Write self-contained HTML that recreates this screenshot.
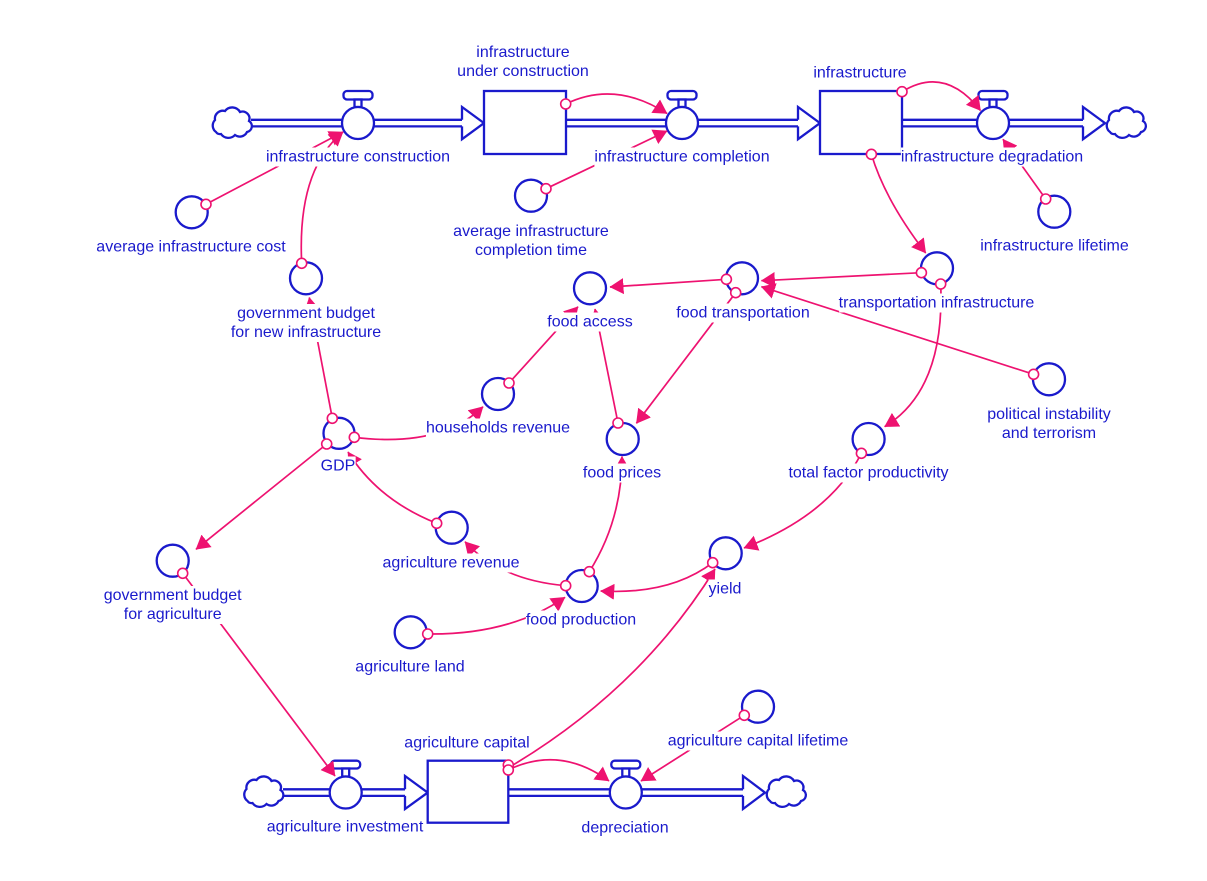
<!DOCTYPE html>
<html>
<head>
<meta charset="utf-8">
<style>
body{margin:0;background:#fff;}
#c{position:relative;width:1207px;height:881px;overflow:hidden;background:#fff;}
svg{position:absolute;left:0;top:0;}
.l{position:absolute;transform:translate(-50%,-50%);font:16px/19px "Liberation Sans",Arial,sans-serif;color:#1a1acc;background:#fff;white-space:nowrap;text-align:center;}
</style>
</head>
<body>
<div id="c">
<svg width="1207" height="881" viewBox="0 0 1207 881">
<defs>
<marker id="a" markerUnits="userSpaceOnUse" viewBox="0 0 14 16" markerWidth="14" markerHeight="16" refX="13.5" refY="8" orient="auto">
<path d="M0,0L14,8L0,16z" fill="#ee1270"/>
</marker>
</defs>

<g fill="none" stroke="#1a1acc" stroke-width="2.3">
<!-- pipes -->
<path d="M251,119.8H462M251,126.4H462"/>
<path d="M566,119.8H798M566,126.4H798"/>
<path d="M902,119.8H1083M902,126.4H1083"/>
<path d="M283,789.3H405M283,795.9H405"/>
<path d="M508,789.3H743M508,795.9H743"/>
<!-- flow arrowheads -->
<path fill="#fff" d="M462,119.8V107L484,123.1L462,139.2V126.4"/>
<path fill="#fff" d="M798,119.8V107L820,123.1L798,139.2V126.4"/>
<path fill="#fff" d="M1083,119.8V107L1105,123.1L1083,139.2V126.4"/>
<path fill="#fff" d="M405,789.3V776L427.7,792.6L405,809V795.9"/>
<path fill="#fff" d="M743,789.3V776L765,792.6L743,809V795.9"/>
<!-- stocks -->
<rect x="484" y="91" width="82" height="63" fill="#fff"/>
<rect x="820" y="91" width="82" height="63" fill="#fff"/>
<rect x="427.7" y="760.7" width="80.6" height="62" fill="#fff"/>
<!-- valves -->
<rect x="343.5" y="91" width="29" height="8.5" rx="3.5" fill="#fff"/>
<rect x="354.5" y="99.5" width="7" height="7.5" fill="#fff"/>
<circle cx="358" cy="123" r="16" fill="#fff"/>
<rect x="667.5" y="91" width="29" height="8.5" rx="3.5" fill="#fff"/>
<rect x="678.5" y="99.5" width="7" height="7.5" fill="#fff"/>
<circle cx="682" cy="123" r="16" fill="#fff"/>
<rect x="978.5" y="91" width="29" height="8.5" rx="3.5" fill="#fff"/>
<rect x="989.5" y="99.5" width="7" height="7.5" fill="#fff"/>
<circle cx="993" cy="123" r="16" fill="#fff"/>
<rect x="331.2" y="760.7" width="29" height="7.8" rx="3.5" fill="#fff"/>
<rect x="342.2" y="768.5" width="7" height="8" fill="#fff"/>
<circle cx="345.7" cy="792.5" r="16" fill="#fff"/>
<rect x="611.3" y="760.7" width="29" height="7.8" rx="3.5" fill="#fff"/>
<rect x="622.3" y="768.5" width="7" height="8" fill="#fff"/>
<circle cx="625.8" cy="792.5" r="16" fill="#fff"/>
<!-- clouds -->
<g fill="#fff">
<path transform="translate(232,122)" d="M-16,10a8,8 0 0 1 -1,-12a8,8 0 0 1 10,-9a9,9 0 0 1 15,1a7,7 0 0 1 9,9a6,6 0 0 1 -2,11a8,8 0 0 1 -12,3a9,9 0 0 1 -14,-1a5,5 0 0 1 -5,-2z"/>
<path transform="translate(1126,122)" d="M-16,10a8,8 0 0 1 -1,-12a8,8 0 0 1 10,-9a9,9 0 0 1 15,1a7,7 0 0 1 9,9a6,6 0 0 1 -2,11a8,8 0 0 1 -12,3a9,9 0 0 1 -14,-1a5,5 0 0 1 -5,-2z"/>
<path transform="translate(263.5,791)" d="M-16,10a8,8 0 0 1 -1,-12a8,8 0 0 1 10,-9a9,9 0 0 1 15,1a7,7 0 0 1 9,9a6,6 0 0 1 -2,11a8,8 0 0 1 -12,3a9,9 0 0 1 -14,-1a5,5 0 0 1 -5,-2z"/>
<path transform="translate(786,791)" d="M-16,10a8,8 0 0 1 -1,-12a8,8 0 0 1 10,-9a9,9 0 0 1 15,1a7,7 0 0 1 9,9a6,6 0 0 1 -2,11a8,8 0 0 1 -12,3a9,9 0 0 1 -14,-1a5,5 0 0 1 -5,-2z"/>
</g>
<!-- auxiliaries -->
<circle cx="191.7" cy="212.3" r="16"/>
<circle cx="306" cy="278.3" r="16"/>
<circle cx="531" cy="195.7" r="16"/>
<circle cx="1054.3" cy="211.7" r="16"/>
<circle cx="937" cy="268.3" r="16"/>
<circle cx="742" cy="278.3" r="16"/>
<circle cx="590" cy="288.3" r="16"/>
<circle cx="1049" cy="379.3" r="16"/>
<circle cx="498" cy="394" r="16"/>
<circle cx="339" cy="433.3" r="15.5"/>
<circle cx="622.7" cy="439" r="16"/>
<circle cx="868.6" cy="439" r="16"/>
<circle cx="451.7" cy="527.7" r="16"/>
<circle cx="172.7" cy="560.7" r="16"/>
<circle cx="725.7" cy="553.3" r="16"/>
<circle cx="581.7" cy="586" r="16"/>
<circle cx="410.7" cy="632.3" r="16"/>
<circle cx="758" cy="706.7" r="16"/>
</g>

<!-- links -->
<g fill="none" stroke="#ee1270" stroke-width="1.7" marker-end="url(#a)">
<path d="M206,204.3L343,132"/>
<path d="M301.7,263.3Q297,170 343,132"/>
<path d="M565.7,104Q615,80 667,113.5"/>
<path d="M546,188.7L667,131"/>
<path d="M902,91.7Q945,65 980.5,110.5"/>
<path d="M1045.7,199L1003,139.3"/>
<path d="M871.4,154.3Q885,200 925.7,253"/>
<path d="M921.4,272.7L761.4,280.7"/>
<path d="M1033.6,374.3L761.4,286.7"/>
<path d="M940.7,284Q945,390 884.6,426.7"/>
<path d="M726.4,279.3L610,287"/>
<path d="M735.7,292.7L636.4,423.3"/>
<path d="M618,423L595,309"/>
<path d="M509,383L578,306.7"/>
<path d="M332.3,418.3L309.3,297.5"/>
<path d="M354.3,437.3Q440,448 483,406.7"/>
<path d="M326.7,444L196,549.3"/>
<path d="M436.7,523.3Q378,500 348,452"/>
<path d="M565.7,585.7Q500,580 465,541.7"/>
<path d="M589.3,571.7Q622,520 622,456.5"/>
<path d="M427.7,634Q510,635 565,597.3"/>
<path d="M712.7,562.7Q670,595 600.7,591"/>
<path d="M861.4,453.3Q830,515 744,548"/>
<path d="M508,768Q640,690 715,569"/>
<path d="M182.7,573.3L335,776"/>
<path d="M508,770Q560,745 609,781"/>
<path d="M744.3,715.3L641,781"/>
</g>

<!-- link tails -->
<g fill="#fff" stroke="#ee1270" stroke-width="1.6">
<circle cx="206" cy="204.3" r="5"/>
<circle cx="301.7" cy="263.3" r="5"/>
<circle cx="565.7" cy="104" r="5"/>
<circle cx="546" cy="188.7" r="5"/>
<circle cx="902" cy="91.7" r="5"/>
<circle cx="871.4" cy="154.3" r="5"/>
<circle cx="1045.7" cy="199" r="5"/>
<circle cx="921.4" cy="272.7" r="5"/>
<circle cx="940.7" cy="284" r="5"/>
<circle cx="1033.6" cy="374.3" r="5"/>
<circle cx="726.4" cy="279.3" r="5"/>
<circle cx="735.7" cy="292.7" r="5"/>
<circle cx="618" cy="423" r="5"/>
<circle cx="509" cy="383" r="5"/>
<circle cx="332.3" cy="418.3" r="5"/>
<circle cx="354.3" cy="437.3" r="5"/>
<circle cx="326.7" cy="444" r="5"/>
<circle cx="436.7" cy="523.3" r="5"/>
<circle cx="589.3" cy="571.7" r="5"/>
<circle cx="565.7" cy="585.7" r="5"/>
<circle cx="427.7" cy="634" r="5"/>
<circle cx="712.7" cy="562.7" r="5"/>
<circle cx="861.4" cy="453.3" r="5"/>
<circle cx="182.7" cy="573.3" r="5"/>
<circle cx="508.3" cy="765" r="5"/>
<circle cx="508.3" cy="770" r="5"/>
<circle cx="744.3" cy="715.3" r="5"/>
</g>
</svg>

<div class="l" style="left:523px;top:62.2px">infrastructure<br>under construction</div>
<div class="l" style="left:860px;top:73.3px">infrastructure</div>
<div class="l" style="left:358px;top:157px">infrastructure construction</div>
<div class="l" style="left:682px;top:157px">infrastructure completion</div>
<div class="l" style="left:992px;top:157px">infrastructure degradation</div>
<div class="l" style="left:191px;top:246.7px">average infrastructure cost</div>
<div class="l" style="left:531px;top:241px">average infrastructure<br>completion time</div>
<div class="l" style="left:1054.5px;top:246px">infrastructure lifetime</div>
<div class="l" style="left:306px;top:322.5px">government budget<br>for new infrastructure</div>
<div class="l" style="left:590px;top:322px">food access</div>
<div class="l" style="left:743px;top:313.3px">food transportation</div>
<div class="l" style="left:936.5px;top:302.7px">transportation infrastructure</div>
<div class="l" style="left:498px;top:428px">households revenue</div>
<div class="l" style="left:338px;top:466px">GDP</div>
<div class="l" style="left:622px;top:473px">food prices</div>
<div class="l" style="left:868.5px;top:472.7px">total factor productivity</div>
<div class="l" style="left:1049px;top:423.5px">political instability<br>and terrorism</div>
<div class="l" style="left:451px;top:562.7px">agriculture revenue</div>
<div class="l" style="left:725px;top:589px">yield</div>
<div class="l" style="left:172.7px;top:605px">government budget<br>for agriculture</div>
<div class="l" style="left:581px;top:620px">food production</div>
<div class="l" style="left:410px;top:666.5px">agriculture land</div>
<div class="l" style="left:758px;top:741px">agriculture capital lifetime</div>
<div class="l" style="left:467px;top:742.7px">agriculture capital</div>
<div class="l" style="left:345px;top:826.7px">agriculture investment</div>
<div class="l" style="left:625px;top:828px">depreciation</div>
</div>
</body>
</html>
